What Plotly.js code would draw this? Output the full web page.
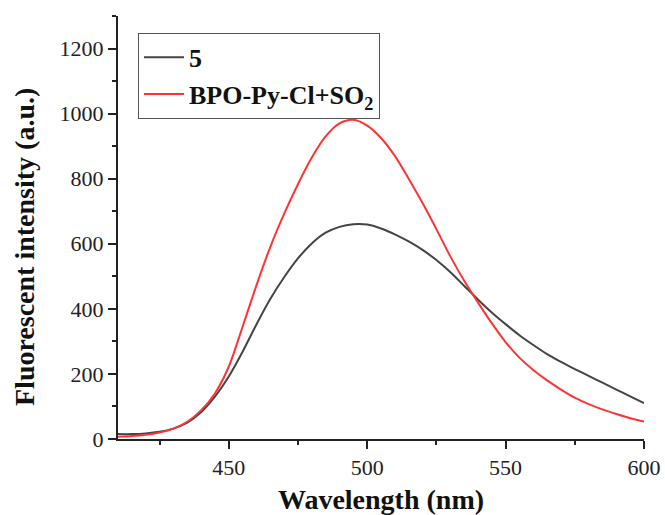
<!DOCTYPE html>
<html>
<head>
<meta charset="utf-8">
<script src="https://cdn.plot.ly/plotly-3.0.1.min.js"></script>
<style>html,body{margin:0;padding:0;background:#fff;}#chart{width:665px;height:515px;}</style>
</head>
<body>
<div id="chart"></div>
<script>
const wavelength = [410,415,420,425,430,435,440,445,450,455,460,465,470,475,480,485,490,495,500,505,510,515,520,525,530,535,540,545,550,555,560,565,570,575,580,585,590,595,600];
const series5 = [15,15,17,22,32,50,82,130,192,268,352,430,497,555,601,634,652,660,659,647,629,607,581,550,513,471,429,389,353,319,289,261,237,215,194,173,152,131,110];
const seriesSO2 = [7,9,13,20,32,53,88,140,222,345,472,590,692,783,865,930,970,981,963,925,870,800,725,645,562,487,420,356,298,250,212,180,152,127,107,91,77,64,54];
const name5 = "<b>5</b>";
const nameSO2 = "<b>BPO-Py-Cl+SO<sub>2</sub></b>";
const xTickVals = [450,500,550,600];
const yTickVals = [0,200,400,600,800,1000,1200];
const xTitle = "Wavelength (nm)";
const yTitle = "<b>Fluorescent intensity (a.u.)</b>";

const serif = "Liberation Serif, Times New Roman, serif";
const traces = [
  {x: wavelength, y: series5, name: name5, type: "scatter", mode: "lines",
   line: {color: "#444444", width: 2, shape: "spline", smoothing: 0.8}},
  {x: wavelength, y: seriesSO2, name: nameSO2, type: "scatter", mode: "lines",
   line: {color: "#ff3333", width: 2, shape: "spline", smoothing: 0.8}}
];
const axisCommon = {
  showline: true, linecolor: "#222", linewidth: 2, mirror: false,
  showgrid: false, zeroline: false,
  ticks: "outside", ticklen: 8, tickwidth: 2, tickcolor: "#222",
  tickfont: {family: serif, size: 22, color: "#222"},
};
const layout = {
  width: 665, height: 515,
  margin: {l: 118, r: 21, t: 16, b: 76},
  paper_bgcolor: "#fff", plot_bgcolor: "#fff",
  showlegend: true,
  legend: {x: 0.038, y: 0.96, xanchor: "left", yanchor: "top",
    bordercolor: "#555", borderwidth: 1, bgcolor: "rgba(255,255,255,0)",
    itemwidth: 40,
    font: {family: serif, size: 26, color: "#111"}, tracegroupgap: 0},
  xaxis: Object.assign({}, axisCommon, {
    range: [410, 600], tickvals: xTickVals,
    minor: {dtick: 25, tick0: 425, ticklen: 4, tickwidth: 2, tickcolor: "#222", ticks: "outside"},
    title: {text: xTitle, font: {family: serif, size: 28, weight: "bold", color: "#111"}, standoff: 15},
    automargin: false
  }),
  yaxis: Object.assign({}, axisCommon, {
    range: [0, 1300], tickvals: yTickVals,
    minor: {dtick: 100, tick0: 0, ticklen: 4, tickwidth: 2, tickcolor: "#222", ticks: "outside"},
    automargin: false
  }),
  annotations: [
    {text: yTitle, xref: "paper", yref: "paper", x: -0.1787, y: 0.4539,
     xanchor: "center", yanchor: "middle", textangle: -90, showarrow: false,
     font: {family: serif, size: 28, color: "#111"}}
  ]
};
Plotly.newPlot("chart", traces, layout, {displayModeBar: false, staticPlot: true});
</script>
</body>
</html>
